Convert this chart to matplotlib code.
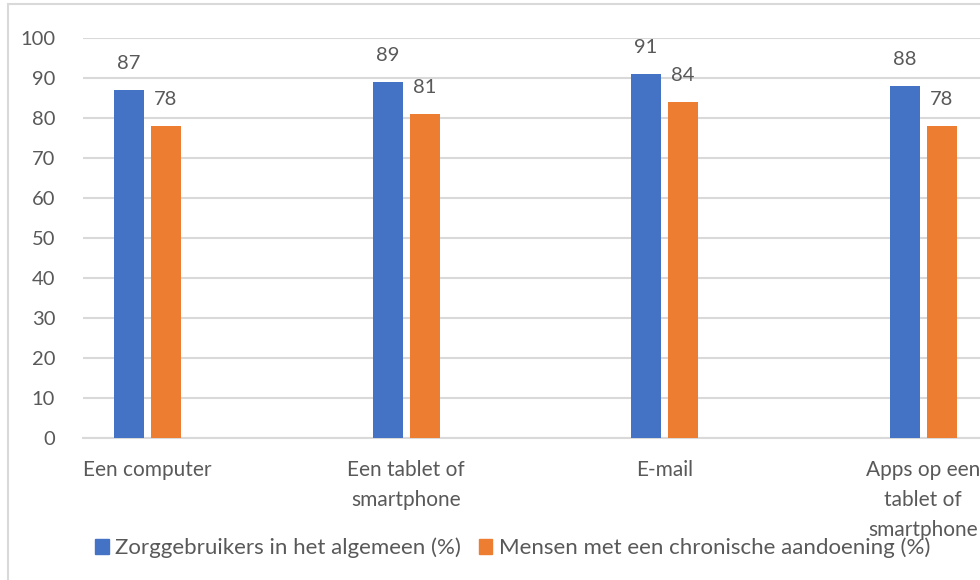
import matplotlib.pyplot as plt
import matplotlib.patches as patches
import numpy as np

plt.rcParams['font.family'] = ['Lato', 'DejaVu Sans']

# Data
categories = ['Een computer', 'Een tablet of\nsmartphone', 'E-mail',
              'Apps op een\ntablet of\nsmartphone']
zorggebruikers = [87, 89, 91, 88]
chronisch = [78, 81, 84, 78]
series_names = ['Zorggebruikers in het algemeen (%)',
                'Mensen met een chronische aandoening (%)']

blue = '#4472C4'
orange = '#ED7D31'
text_color = '#595959'
grid_color = '#D9D9D9'

W, H = 980, 580
fig = plt.figure(figsize=(W / 100, H / 100), dpi=100)

# outer chart border (only left/top visible in the crop)
fig.patches.append(patches.Rectangle((8 / W, -0.1), 1.2, (H - 4) / H + 0.1,
                                     transform=fig.transFigure, fill=False,
                                     edgecolor=grid_color, linewidth=1.5))

ax = fig.add_axes([83 / W, (H - 438) / H, (W - 83) / W, 400 / H])

x = np.arange(len(categories))
bw = 0.116
off = 0.0716
b1 = ax.bar(x - off, zorggebruikers, bw, color=blue, zorder=3)
b2 = ax.bar(x + off, chronisch, bw, color=orange, zorder=3)

for bars in (b1, b2):
    ax.bar_label(bars, padding=13, fontsize=14.5, color=text_color)

ax.set_ylim(0, 100)
ax.set_xlim(-0.2495, 3.22)
ax.set_yticks(range(0, 101, 10))
ax.yaxis.grid(True, color=grid_color, linewidth=1.5, zorder=0)
ax.set_axisbelow(True)

ax.set_xticks(x)
ax.set_xticklabels(categories, fontsize=15, color=text_color, linespacing=1.63)
ax.tick_params(axis='x', length=0, pad=16)
ax.tick_params(axis='y', length=0, pad=20, labelsize=14.5, labelcolor=text_color)

for s in ['top', 'right', 'left']:
    ax.spines[s].set_visible(False)
ax.spines['bottom'].set_color(grid_color)
ax.spines['bottom'].set_linewidth(1.5)

handles = [patches.Patch(color=blue), patches.Patch(color=orange)]
fig.legend(handles, series_names, loc='center', bbox_to_anchor=(513 / W, 32 / H),
           ncol=2, frameon=False, fontsize=16, labelcolor=text_color,
           handlelength=0.6, handleheight=0.6, handletextpad=0.3,
           columnspacing=0.8)

fig.savefig('out.png', dpi=100, facecolor='white')
